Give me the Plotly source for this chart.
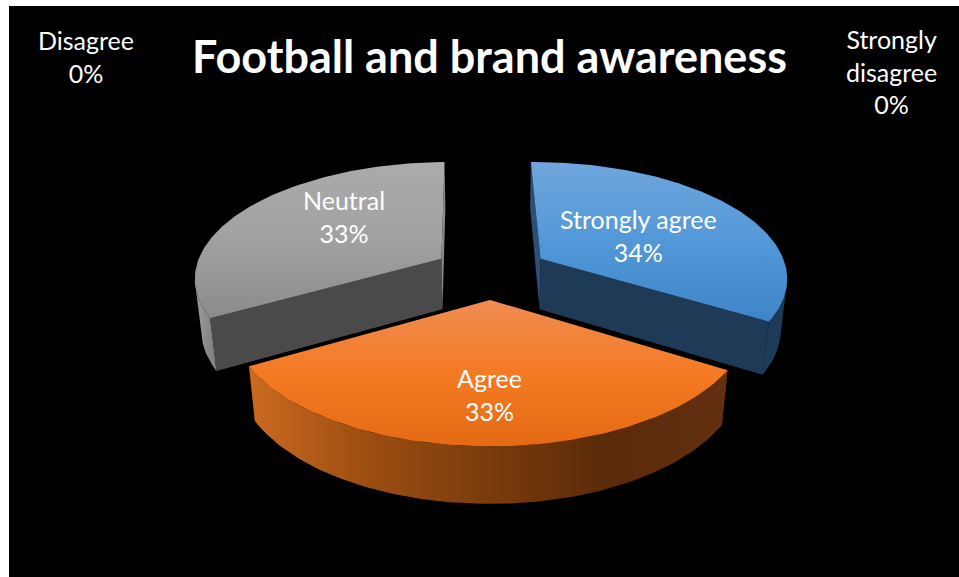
import numpy as np
import plotly.graph_objects as go

# Survey shares
categories = ["Strongly agree", "Agree", "Neutral", "Disagree", "Strongly disagree"]
shares = [34, 33, 33, 0, 0]
title_text = "Football and brand awareness"

# Where each category's caption sits (pixels, same frame as the axes)
caption_x = [638, 489, 344, 86, 891]
caption_y = [235, 394, 216, 56, 71]
caption_names = ["Strongly agree", "Agree", "Neutral", "Disagree", "Strongly<br>disagree"]

# Face colours per category
top_stops = [
    ["#70a6dd", "#5298d8", "#3e85c8"],
    ["#ef8c52", "#f47a24", "#e56a14"],
    ["#ababab", "#a1a1a1", "#8b8b8b"],
]
rim_stops = [
    ["#1e3d5a", "#1c3954"],
    ["#cb6a20", "#9c4d10", "#7a3c0c", "#5a2a09", "#623010"],
    ["#9d9d9d", "#7c7c7c"],
]
# Cut faces: (clockwise start edge, clockwise end edge)
cut_colours = [
    ("#2b4f75", "#1e3a56"),
    ("#5a2a09", "#5a2a09"),
    ("#4a4a4a", "#8a8a8a"),
]

# Perspective of the tilted pie
CX, CY = 491.0, 272.0
SCALE_X, SCALE_Y = 247.0, 115.0
DEPTH_K = 0.15
THICK_DROP, THICK_SHRINK = 52.0, 0.022
EXPLODE = 0.235
ROTATION = -0.9


def project(x, y, lower=0.0):
    """Pie-plane coordinates to axis coordinates; lower=1 is the underside."""
    x, y = np.asarray(x, float), np.asarray(y, float)
    w = 1 + DEPTH_K * y + THICK_SHRINK * lower
    return CX + SCALE_X * x / w, CY - (SCALE_Y * y - THICK_DROP * lower) / w


def ramp(colours):
    return [[i / (len(colours) - 1), c] for i, c in enumerate(colours)]


def face(fig, u, v, colours, kind="vertical"):
    """One filled polygon; a list of colours gives a gradient across its extent."""
    u = np.append(u, u[0])
    v = np.append(v, v[0])
    trace = dict(x=u, y=v, mode="lines", line=dict(width=0), fill="toself",
                 hoverinfo="skip", showlegend=False)
    if isinstance(colours, str):
        trace["fillcolor"] = colours
    else:
        span = (u.min(), u.max()) if kind == "horizontal" else (v.min(), v.max())
        trace["fillgradient"] = dict(type=kind, colorscale=ramp(colours),
                                     start=span[0], stop=span[1])
    fig.add_trace(go.Scatter(**trace))


fig = go.Figure()
total = sum(shares)
angle = ROTATION
wedges = []
for i, share in enumerate(shares):
    sweep = 360 * share / total
    wedges.append((i, angle, angle + sweep))
    angle += sweep

# Back wedges first, the front wedge last
for i, start, end in sorted((w for w in wedges if shares[w[0]] > 0),
                            key=lambda w: np.cos(np.radians((w[1] + w[2]) / 2)), reverse=True):
    mid = np.radians((start + end) / 2)
    ox, oy = EXPLODE * np.sin(mid), EXPLODE * np.cos(mid)
    t = np.radians(np.linspace(start, end, 121))
    ax, ay = ox + np.sin(t), oy + np.cos(t)

    # Radial cut faces
    for idx, colour in zip((0, -1), cut_colours[i]):
        xs = np.array([ox, ax[idx]])
        ys = np.array([oy, ay[idx]])
        u0, v0 = project(xs, ys)
        u1, v1 = project(xs, ys, 1)
        face(fig, np.r_[u0, u1[::-1]], np.r_[v0, v1[::-1]], colour)

    # Outer wall: only the stretch that turns toward the viewer
    ut, vt = project(ax, ay)
    ub, vb = project(ax, ay, 1)
    front = np.gradient(ut) < 0
    face(fig, np.r_[ut[front], ub[front][::-1]], np.r_[vt[front], vb[front][::-1]],
         rim_stops[i], "horizontal")

    # Top face
    ua, va = project([ox], [oy])
    face(fig, np.r_[ua, ut], np.r_[va, vt], top_stops[i])

for name, share, x, y in zip(caption_names, shares, caption_x, caption_y):
    fig.add_annotation(x=x, y=y, text=f"{name}<br>{share}%", showarrow=False,
                       xanchor="center", yanchor="middle",
                       font=dict(family="Lato", size=25, color="white"))

fig.add_annotation(x=489, y=56, text=f"<b>{title_text}</b>", showarrow=False,
                   xanchor="center", yanchor="middle",
                   font=dict(family="Lato", size=45, color="white"))

fig.update_layout(
    width=959, height=577, margin=dict(l=9, t=6, r=0, b=0),
    paper_bgcolor="white", plot_bgcolor="black",
    xaxis=dict(range=[9, 959], visible=False, fixedrange=True),
    yaxis=dict(range=[577, 6], visible=False, fixedrange=True),
)
fig.write_html("out.html", config=dict(displayModeBar=False))
